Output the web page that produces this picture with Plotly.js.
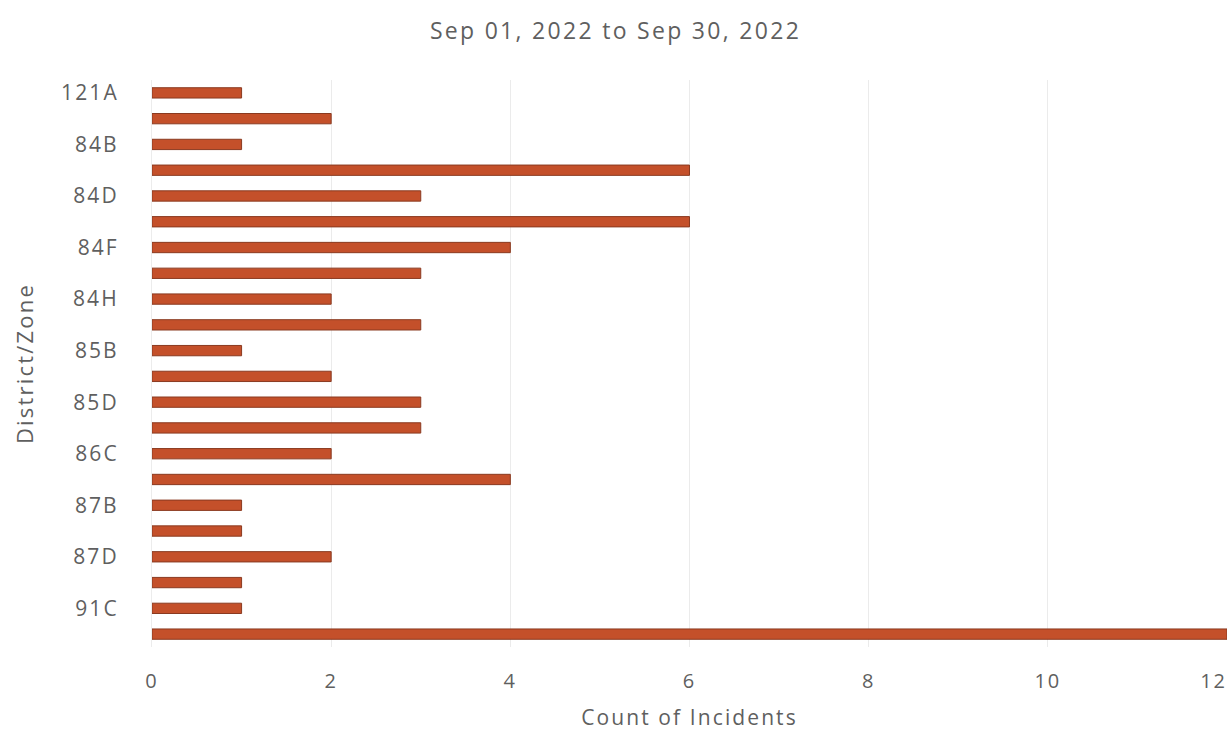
<!DOCTYPE html>
<html>
<head>
<meta charset="utf-8">
<script src="https://cdn.plot.ly/plotly-3.0.1.min.js"></script>
<style>
  html, body { margin: 0; padding: 0; background: #ffffff; }
  #chart { width: 1231px; height: 731px; }
  /* loose tracking for all chart text */
  #chart text { letter-spacing: 0.1em; }
</style>
</head>
<body>
<div id="chart"></div>
<script>
// Incident counts per district/zone, top to bottom
const zones = [
  "121A", "84A", "84B", "84C", "84D", "84E", "84F", "84G", "84H", "85A", "85B",
  "85C", "85D", "86B", "86C", "87A", "87B", "87C", "87D", "91B", "91C", "91D"
];
const incidents = [1, 2, 1, 6, 3, 6, 4, 3, 2, 3, 1, 2, 3, 3, 2, 4, 1, 1, 2, 1, 1, 12];

// Only every other zone gets a label on the axis
const labelledZones = zones.filter((z, i) => i % 2 === 0);
const xTicks = [0, 2, 4, 6, 8, 10, 12];

const textGrey = "#5f5f5f";
const fontFamily = "'Open Sans', 'Noto Sans', sans-serif";

const trace = {
  type: "bar",
  orientation: "h",
  y: zones,
  x: incidents,
  marker: {
    color: "#C4502A",
    line: { color: "#8A3A20", width: 1 }
  },
  hoverinfo: "x+y"
};

const layout = {
  width: 1231,
  height: 731,
  paper_bgcolor: "#ffffff",
  plot_bgcolor: "#ffffff",
  margin: { l: 152, r: 4, t: 80, b: 84 },
  bargap: 0.6,
  showlegend: false,
  font: { family: fontFamily, color: textGrey },
  title: {
    text: "Sep 01, 2022 to Sep 30, 2022",
    font: { family: fontFamily, size: 23, color: textGrey },
    x: 0.5,
    xanchor: "center",
    y: 0.958,
    yanchor: "middle"
  },
  xaxis: {
    range: [0, 12],
    tickvals: xTicks,
    ticktext: xTicks.map(String),
    ticklabeloverflow: "allow",
    showgrid: true,
    gridcolor: "#ebebeb",
    gridwidth: 1,
    zeroline: false,
    showline: false,
    ticks: "",
    tickfont: { size: 20, color: textGrey },
    ticklabelstandoff: 20,
    title: {
      text: "Count of Incidents",
      font: { size: 21, color: textGrey },
      standoff: 18
    }
  },
  yaxis: {
    type: "category",
    autorange: "reversed",
    tickvals: labelledZones,
    ticktext: labelledZones,
    showgrid: false,
    zeroline: false,
    showline: true,
    linecolor: "#ececec",
    linewidth: 1,
    ticks: "",
    tickfont: { size: 21, color: textGrey },
    ticklabelstandoff: 28,
    title: {
      text: "District/Zone",
      font: { size: 22, color: textGrey },
      standoff: 29
    }
  }
};

Plotly.newPlot("chart", [trace], layout, { displayModeBar: false, staticPlot: true })
  .then(gd => {
    // the last x tick sits on the right edge of the page: right-align its label
    const labels = gd.querySelectorAll(".xtick text");
    const last = labels[labels.length - 1];
    if (last) last.setAttribute("text-anchor", "end");
  });
</script>
</body>
</html>
